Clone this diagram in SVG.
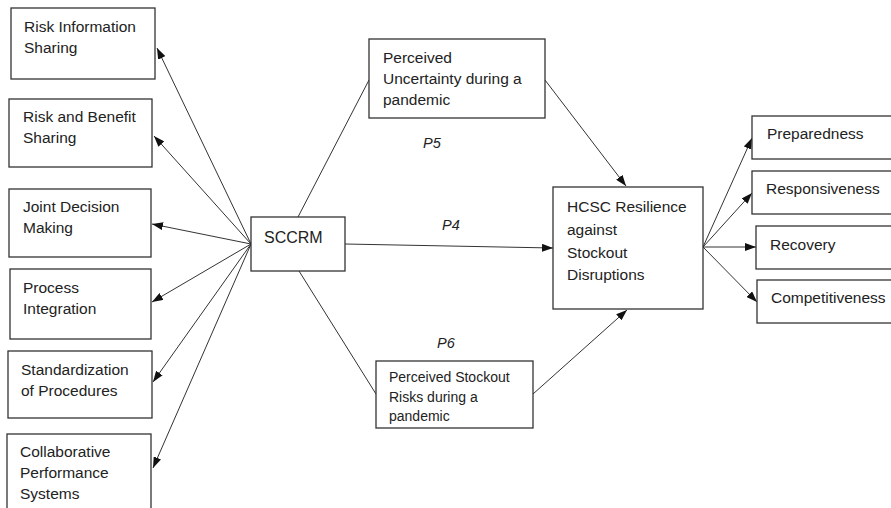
<svg xmlns="http://www.w3.org/2000/svg" width="891" height="508" viewBox="0 0 891 508">
<defs>
<marker id="ah" markerUnits="userSpaceOnUse" markerWidth="11" markerHeight="8" refX="11" refY="4" orient="auto">
<path d="M0,0 L11,4 L0,8 z" fill="#111"/>
</marker>
<style>
.box{fill:#fff;stroke:#333;stroke-width:1.3}
.t{font-family:"Liberation Sans",Arial,sans-serif;font-size:15.5px;fill:#222}
.s{font-size:14px}
.p{font-family:"Liberation Sans",Arial,sans-serif;font-size:14.5px;font-style:italic;fill:#222}
.c{stroke:#333;stroke-width:1;fill:none}
.a{marker-end:url(#ah)}
</style>
</defs>
<rect width="891" height="508" fill="#fff"/>
<g id="connectors">
<line class="c a" x1="251" y1="244" x2="157" y2="48"/>
<line class="c a" x1="251" y1="244" x2="154" y2="136"/>
<line class="c a" x1="251" y1="244" x2="152" y2="224"/>
<line class="c a" x1="251" y1="244" x2="152" y2="302"/>
<line class="c a" x1="251" y1="244" x2="153" y2="382"/>
<line class="c a" x1="251" y1="244" x2="153" y2="468"/>
<line class="c" x1="298" y1="217" x2="369" y2="80"/>
<line class="c a" x1="545" y1="80" x2="626" y2="186"/>
<line class="c a" x1="345" y1="244" x2="553" y2="248"/>
<line class="c" x1="299" y1="271" x2="376" y2="394"/>
<line class="c a" x1="533" y1="394" x2="627" y2="310"/>
<line class="c a" x1="703" y1="247" x2="752" y2="138"/>
<line class="c a" x1="703" y1="247" x2="752" y2="193"/>
<line class="c a" x1="703" y1="247" x2="756" y2="247"/>
<line class="c a" x1="703" y1="247" x2="757" y2="302"/>
</g>
<g id="n-ris">
<rect class="box" x="11" y="8" width="144" height="71"/>
<text class="t" x="24" y="32">Risk Information</text>
<text class="t" x="24" y="53">Sharing</text>
</g>
<g id="n-rbs">
<rect class="box" x="9" y="99" width="143" height="68"/>
<text class="t" x="23" y="122">Risk and Benefit</text>
<text class="t" x="23" y="143">Sharing</text>
</g>
<g id="n-jdm">
<rect class="box" x="9" y="189" width="142" height="68"/>
<text class="t" x="23" y="212">Joint Decision</text>
<text class="t" x="23" y="233">Making</text>
</g>
<g id="n-pi">
<rect class="box" x="10" y="269" width="141" height="70"/>
<text class="t" x="23" y="293">Process</text>
<text class="t" x="23" y="314">Integration</text>
</g>
<g id="n-sp">
<rect class="box" x="8" y="351" width="144" height="67"/>
<text class="t" x="21" y="375">Standardization</text>
<text class="t" x="21" y="396">of Procedures</text>
</g>
<g id="n-cps">
<rect class="box" x="7" y="434" width="144" height="80"/>
<text class="t" x="20" y="457">Collaborative</text>
<text class="t" x="20" y="478">Performance</text>
<text class="t" x="20" y="499">Systems</text>
</g>
<g id="n-sccrm">
<rect class="box" x="251" y="217" width="94" height="54"/>
<text class="t" x="264" y="243" style="font-size:16px">SCCRM</text>
</g>
<g id="n-pu">
<rect class="box" x="369" y="39" width="176" height="79"/>
<text class="t" x="383" y="63">Perceived</text>
<text class="t" x="383" y="84">Uncertainty during a</text>
<text class="t" x="383" y="105">pandemic</text>
</g>
<g id="n-ps">
<rect class="box" x="376" y="361" width="157" height="67"/>
<text class="t s" x="389" y="382">Perceived Stockout</text>
<text class="t s" x="389" y="402">Risks during a</text>
<text class="t s" x="389" y="421">pandemic</text>
</g>
<g id="n-hcsc">
<rect class="box" x="553" y="187" width="150" height="122"/>
<text class="t" x="567" y="212">HCSC Resilience</text>
<text class="t" x="567" y="235">against</text>
<text class="t" x="567" y="258">Stockout</text>
<text class="t" x="567" y="280">Disruptions</text>
</g>
<g id="n-prep">
<rect class="box" x="752" y="116" width="150" height="43"/>
<text class="t" x="767" y="139">Preparedness</text>
</g>
<g id="n-resp">
<rect class="box" x="752" y="171" width="150" height="43"/>
<text class="t" x="766" y="194">Responsiveness</text>
</g>
<g id="n-rec">
<rect class="box" x="756" y="226" width="150" height="43"/>
<text class="t" x="770" y="250">Recovery</text>
</g>
<g id="n-comp">
<rect class="box" x="757" y="280" width="150" height="43"/>
<text class="t" x="771" y="303">Competitiveness</text>
</g>
<g id="labels">
<text class="p" x="423" y="148">P5</text>
<text class="p" x="442" y="230">P4</text>
<text class="p" x="437" y="348">P6</text>
</g>
</svg>
